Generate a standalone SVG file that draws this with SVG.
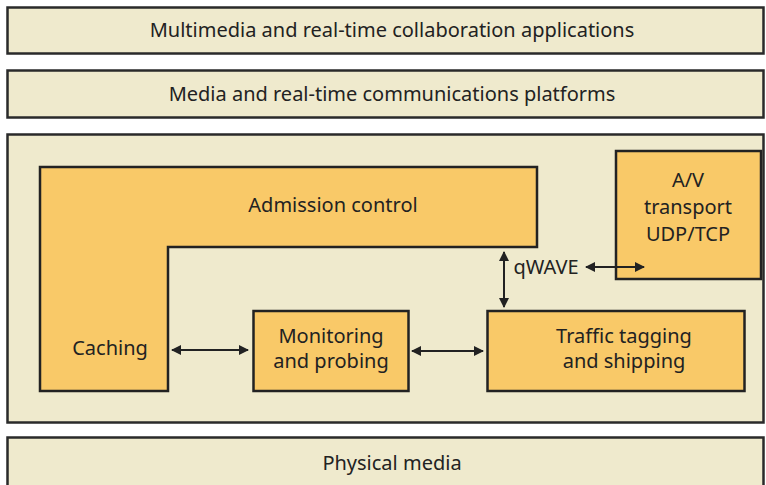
<svg xmlns="http://www.w3.org/2000/svg" width="766" height="485" viewBox="0 0 766 485">
<style>
.band{fill:#efeacd;stroke:#2a2a2a;stroke-width:2.5}
.node{fill:#f9c968;stroke:#222;stroke-width:2.5}
.t{font-family:"Noto Sans","Open Sans",sans-serif;font-size:20px;fill:#222;text-anchor:middle}
.c{stroke:#222;stroke-width:2;fill:none;marker-start:url(#ah);marker-end:url(#ah)}
</style>
<defs>
<marker id="ah" viewBox="0 0 10 10" refX="9" refY="5" markerWidth="5" markerHeight="5" orient="auto-start-reverse" markerUnits="strokeWidth">
<path d="M0,0 L10,5 L0,10 Z" fill="#222"/>
</marker>
</defs>
<rect width="766" height="485" fill="#fff"/>
<g id="apps"><rect class="band" x="7.5" y="7.5" width="756" height="46"/><text class="t" x="392" y="37">Multimedia and real-time collaboration applications</text></g>
<g id="platforms"><rect class="band" x="7.5" y="70.5" width="756" height="47"/><text class="t" x="392" y="101">Media and real-time communications platforms</text></g>
<g id="qos"><rect class="band" x="7.5" y="134.5" width="756" height="288"/></g>
<g id="physical"><rect class="band" x="7.5" y="437.5" width="756" height="50"/><text class="t" x="392" y="470">Physical media</text></g>
<g id="admission"><path class="node" d="M40,167 H537 V247 H168 V391 H40 Z"/><text class="t" x="333" y="212">Admission control</text><text class="t" x="110" y="355">Caching</text></g>
<g id="monitoring"><rect class="node" x="253.5" y="311" width="155" height="80"/><text class="t" x="331" y="343">Monitoring</text><text class="t" x="331" y="368">and probing</text></g>
<g id="traffic"><rect class="node" x="487.5" y="311" width="257" height="80"/><text class="t" x="624" y="343">Traffic tagging</text><text class="t" x="624" y="368">and shipping</text></g>
<g id="av"><rect class="node" x="616" y="151" width="145" height="128"/><text class="t" x="688" y="187">A/V</text><text class="t" x="688" y="214">transport</text><text class="t" x="688" y="241">UDP/TCP</text></g>
<g id="qwave"><text class="t" x="546" y="274">qWAVE</text></g>
<g id="connectors">
<line class="c" x1="172" y1="350" x2="248" y2="350"/>
<line class="c" x1="412" y1="351" x2="483" y2="351"/>
<line class="c" x1="504" y1="252" x2="504" y2="307"/>
<line class="c" x1="586" y1="267" x2="644" y2="267"/>
</g>
</svg>
